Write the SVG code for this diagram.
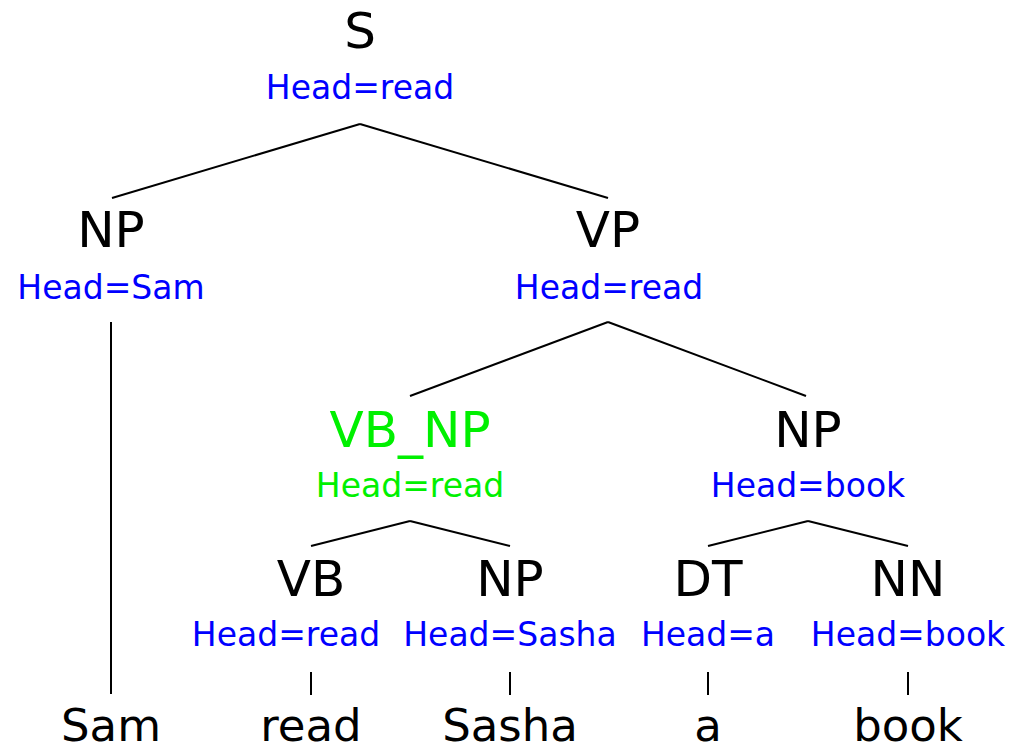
<svg xmlns="http://www.w3.org/2000/svg" width="1012" height="752" viewBox="0 0 1012 752">
<style>
.cat{font-family:"DejaVu Sans",sans-serif;font-size:50px;fill:#000;text-anchor:middle}
.head{font-family:"DejaVu Sans",sans-serif;font-size:33px;fill:#0000ff;text-anchor:middle}
.word{font-family:"DejaVu Sans",sans-serif;font-size:45px;fill:#000;text-anchor:middle}
.green{fill:#00f000}
.edges line{stroke:#000;stroke-width:2;fill:none}
</style>
<rect width="1012" height="752" fill="#fff"/>
<g id="connectors" class="edges">
<line x1="360" y1="124" x2="112" y2="198"/>
<line x1="360" y1="124" x2="608" y2="198"/>
<line x1="111" y1="322" x2="111" y2="694"/>
<line x1="608" y1="322" x2="410" y2="396"/>
<line x1="608" y1="322" x2="806" y2="396"/>
<line x1="410" y1="521" x2="311" y2="546"/>
<line x1="410" y1="521" x2="510" y2="546"/>
<line x1="808" y1="521" x2="708" y2="546"/>
<line x1="808" y1="521" x2="908" y2="546"/>
<line x1="311" y1="672" x2="311" y2="695"/>
<line x1="510" y1="672" x2="510" y2="695"/>
<line x1="708" y1="672" x2="708" y2="695"/>
<line x1="908" y1="672" x2="908" y2="695"/>
</g>
<g id="node-S"><text class="cat" x="360" y="48">S</text><text class="head" x="360" y="99">Head=read</text></g>
<g id="node-NP1"><text class="cat" x="111" y="247">NP</text><text class="head" x="111" y="299">Head=Sam</text></g>
<g id="node-VP"><text class="cat" x="608" y="247">VP</text><text class="head" x="609" y="299">Head=read</text></g>
<g id="node-VBNP"><text class="cat green" x="410" y="447">VB_NP</text><text class="head green" x="410" y="497">Head=read</text></g>
<g id="node-NP2"><text class="cat" x="808" y="447">NP</text><text class="head" x="808" y="497">Head=book</text></g>
<g id="node-VB"><text class="cat" x="311" y="596">VB</text><text class="head" x="286" y="646">Head=read</text></g>
<g id="node-NP3"><text class="cat" x="510" y="596">NP</text><text class="head" x="510" y="646">Head=Sasha</text></g>
<g id="node-DT"><text class="cat" x="708" y="596">DT</text><text class="head" x="708" y="646">Head=a</text></g>
<g id="node-NN"><text class="cat" x="908" y="596">NN</text><text class="head" x="908" y="646">Head=book</text></g>
<g id="word-Sam"><text class="word" x="111" y="741">Sam</text></g>
<g id="word-read"><text class="word" x="311" y="741">read</text></g>
<g id="word-Sasha"><text class="word" x="510" y="741">Sasha</text></g>
<g id="word-a"><text class="word" x="708" y="741">a</text></g>
<g id="word-book"><text class="word" x="908" y="741">book</text></g>
</svg>
